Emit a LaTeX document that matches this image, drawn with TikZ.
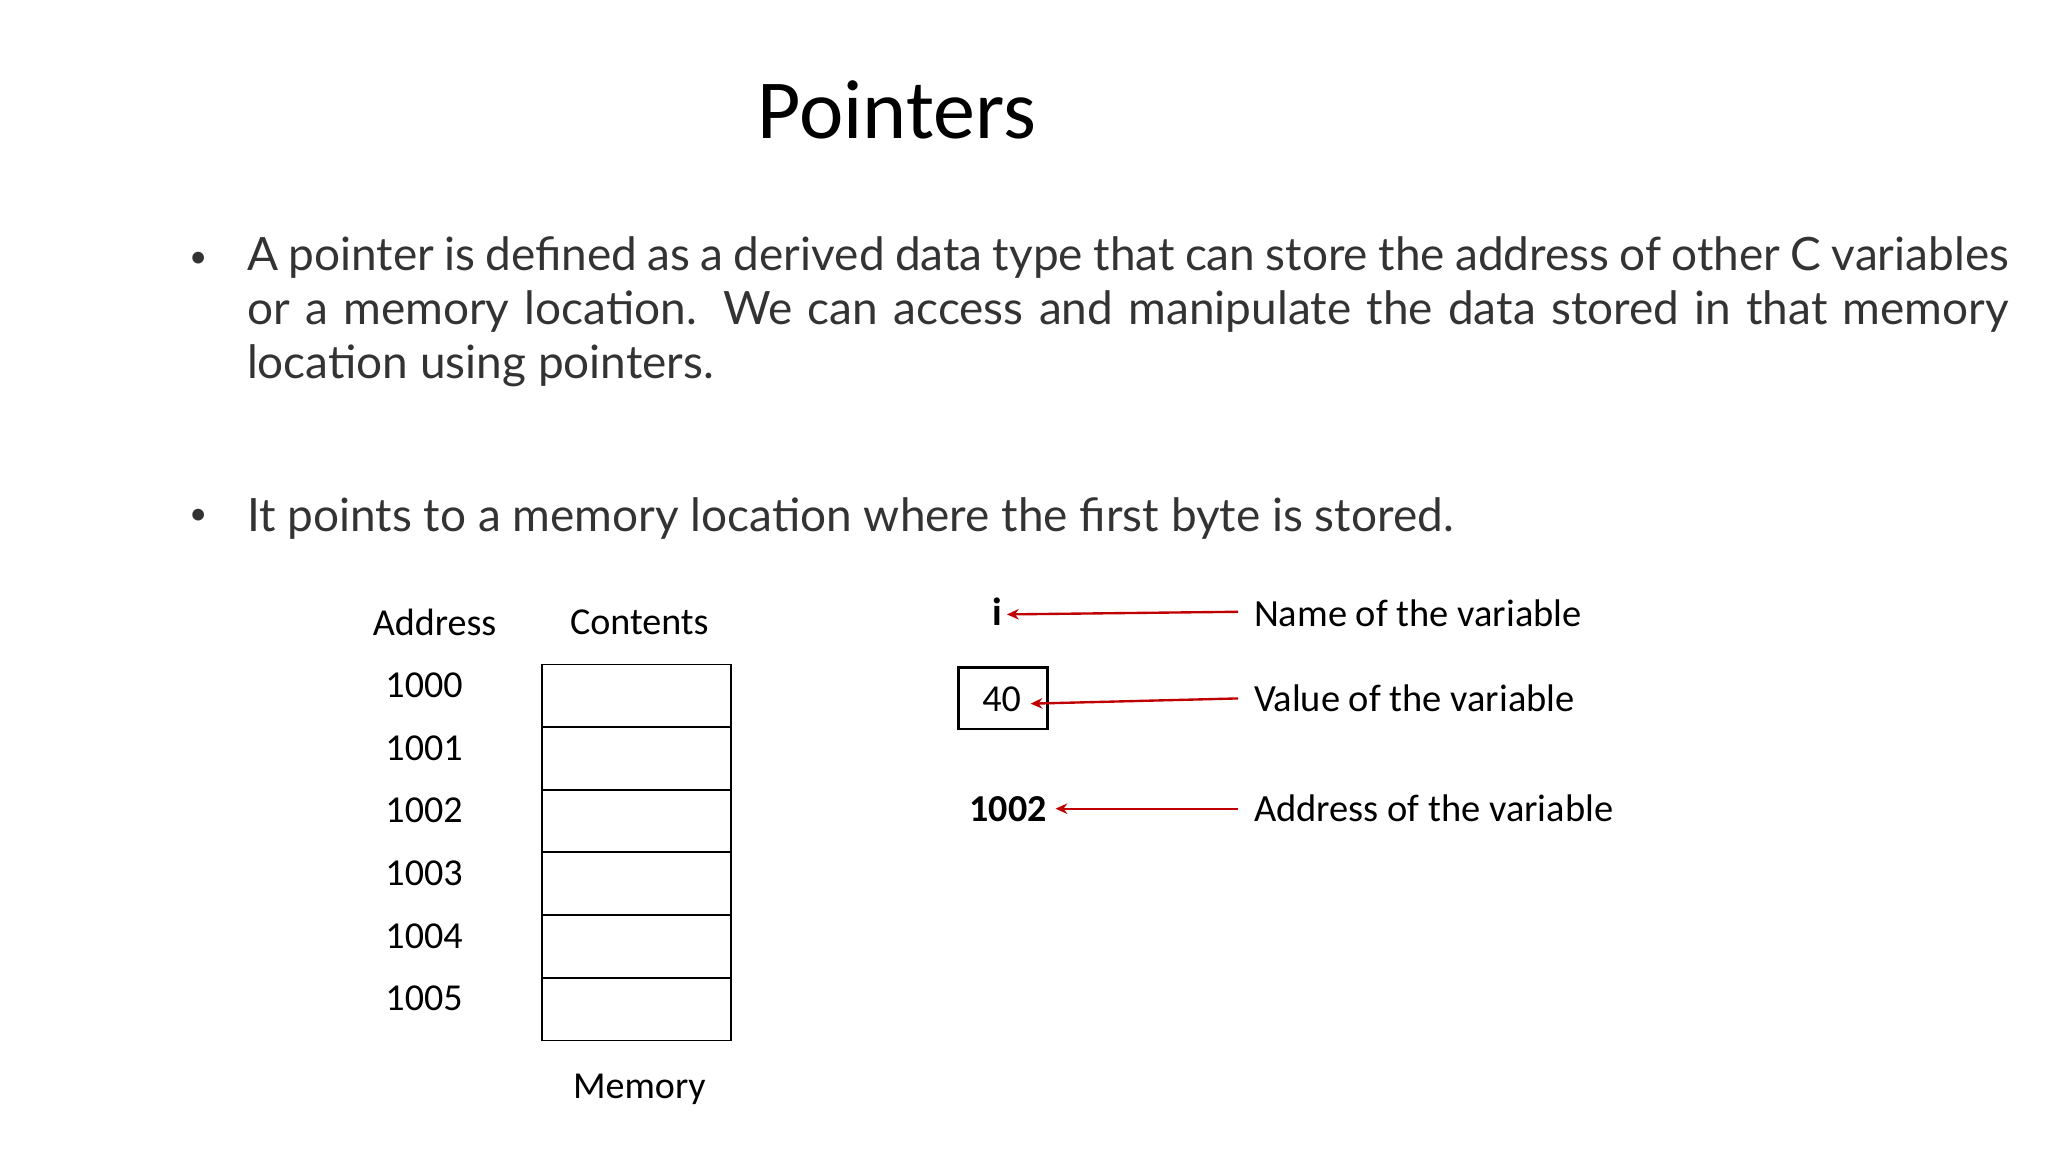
\documentclass[tikz,border=0pt]{standalone}
\usepackage{fontspec}
\setmainfont{Lato}
\newfontfamily\carl{Carlito}
\usetikzlibrary{arrows.meta}
\definecolor{arr}{RGB}{192,0,0}
\definecolor{body}{RGB}{51,51,51}
\begin{document}
\begin{tikzpicture}[x=1pt,y=-1pt,
  lbl/.style={font=\carl\fontsize{29.3}{32}\selectfont,anchor=west,inner sep=0},
  tbl/.style={font=\carl\fontsize{29}{30}\selectfont,inner sep=0},
  cell/.style={draw,line width=1.2pt,minimum width=144pt,minimum height=48pt,inner sep=0},
  ptr/.style={arr,line width=1.8pt,-{Stealth[length=9pt,width=8pt]}}]
\useasboundingbox (0,0) rectangle (1560,878);
\node[font=\carl\fontsize{64}{70}\selectfont] (title) at (683,84) {Pointers};
\node[font=\fontsize{24}{30}\selectfont,text=body] (b1) at (151,198) {•};
\node[font=\fontsize{24}{30}\selectfont,text=body] (b2) at (151,394) {•};
\node[anchor=north west,inner sep=0,text width=1342pt,align=justify,text=body,
  font=\fontsize{35}{41}\selectfont] (p1) at (188,180)
  {A pointer is defined as a derived data type that can store the address of other C variables or a memory location. We can access and manipulate the data stored in that memory location using pointers.};
\node[anchor=west,inner sep=0,text=body,font=\fontsize{35}{41}\selectfont] (p2) at (188,395)
  {It points to a memory location where the first byte is stored.};
\node[tbl] (ha) at (331,474) {Address};
\node[tbl] (hc) at (487,474) {Contents};
\foreach \i/\a in {0/1000,1/1001,2/1002,3/1003,4/1004,5/1005}{
  \node[cell] (c\i) at (485,{530+47.7*\i}) {};
  \node[tbl] (a\i) at (323,{522+47.7*\i}) {\a};
}
\node[tbl] (mem) at (487,830) {Memory};
\node[font=\carl\bfseries\fontsize{30}{30}\selectfont,inner sep=0] (vi) at (760,466) {i};
\node[draw,line width=1.8pt,minimum width=68pt,minimum height=47pt,inner sep=0] (box) at (764,532) {};
\node[tbl] (v40) at (763,533) {40};
\node[font=\carl\bfseries\fontsize{29}{30}\selectfont,inner sep=0] (v1002) at (768,616) {1002};
\node[lbl] (l1) at (955,467) {Name of the variable};
\node[lbl] (l2) at (955,532) {Value of the variable};
\node[lbl] (l3) at (955,616) {Address of the variable};
\coordinate (t1) at (767,468);
\coordinate (t2) at (785,536);
\coordinate (t3) at (804,616);
\draw[ptr] ([xshift=-12pt]l1.west |- 0,466) -- (t1);
\draw[ptr] ([xshift=-12pt]l2.west |- 0,532) -- (t2);
\draw[ptr] ([xshift=-12pt]l3.west |- 0,616) -- (t3);
\end{tikzpicture}
\end{document}
